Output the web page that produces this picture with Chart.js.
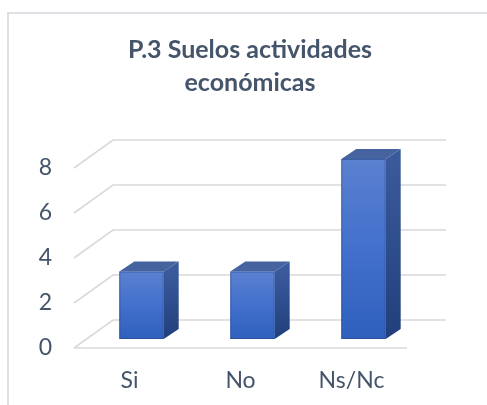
<!DOCTYPE html>
<html>
<head>
<meta charset="utf-8">
<script src="https://cdn.jsdelivr.net/npm/chart.js@4"></script>
<style>
  html, body { margin: 0; padding: 0; background: #fff; }
  #wrap { position: relative; width: 487px; height: 405px; }
</style>
</head>
<body>
<div id="wrap"><canvas id="chart" width="487" height="405"></canvas></div>
<script>
// chart data
const categories = ['Si', 'No', 'Ns/Nc'];
const values = [3, 3, 8];
const yTicks = [0, 2, 4, 6, 8];
const titleLines = ['P.3 Suelos actividades', 'económicas'];

const textColor = '#44546a';
const gridColor = '#d9d9d9';
// 3D look: back wall offset and bar offsets
const wall = { dx: 39, dy: -28 };
const barShift = { dx: 12, dy: -9 };
const barDepth = { dx: 15, dy: -10 };

// Fake 3D: frame, title, walls and boxes drawn around the library's scales
const excel3d = {
    id: 'excel3d',
    beforeDraw(chart) {
        const ctx = chart.ctx;
        const area = chart.chartArea;
        const y = chart.scales.y;

        ctx.save();
        // chart frame
        ctx.strokeStyle = '#dde0e5';
        ctx.lineWidth = 2;
        ctx.strokeRect(8, 13, 500, 420);

        // title
        ctx.fillStyle = textColor;
        ctx.font = 'bold 25px Lato';
        ctx.textAlign = 'center';
        ctx.textBaseline = 'alphabetic';
        ctx.fillText(titleLines[0], 250, 58);
        ctx.fillText(titleLines[1], 250, 91);

        // gridlines: side diagonal + back wall
        ctx.strokeStyle = gridColor;
        ctx.lineWidth = 1.6;
        yTicks.forEach(v => {
            const py = y.getPixelForValue(v);
            ctx.beginPath();
            ctx.moveTo(area.left, py);
            ctx.lineTo(area.left + wall.dx, py + wall.dy);
            ctx.lineTo(area.right + wall.dx, py + wall.dy);
            ctx.stroke();
        });
        // floor front edge
        const base = y.getPixelForValue(0);
        ctx.beginPath();
        ctx.moveTo(area.left, base);
        ctx.lineTo(area.right, base);
        ctx.stroke();
        ctx.restore();
    },
    beforeDatasetsDraw() {
        return false; // boxes are drawn in afterDraw
    },
    afterDraw(chart) {
        const ctx = chart.ctx;
        const meta = chart.getDatasetMeta(0);
        ctx.save();
        meta.data.forEach(bar => {
            const x0 = bar.x - bar.width / 2 + barShift.dx;
            const x1 = bar.x + bar.width / 2 + barShift.dx;
            const top = bar.y + barShift.dy;
            const bottom = bar.base + barShift.dy;

            // side face
            let g = ctx.createLinearGradient(0, top, 0, bottom);
            g.addColorStop(0, '#3a5a9c');
            g.addColorStop(1, '#213f7c');
            ctx.fillStyle = g;
            ctx.beginPath();
            ctx.moveTo(x1, top);
            ctx.lineTo(x1 + barDepth.dx, top + barDepth.dy);
            ctx.lineTo(x1 + barDepth.dx, bottom + barDepth.dy);
            ctx.lineTo(x1, bottom);
            ctx.closePath();
            ctx.fill();

            // top face
            ctx.fillStyle = '#46639f';
            ctx.beginPath();
            ctx.moveTo(x0, top);
            ctx.lineTo(x0 + barDepth.dx, top + barDepth.dy);
            ctx.lineTo(x1 + barDepth.dx, top + barDepth.dy);
            ctx.lineTo(x1, top);
            ctx.closePath();
            ctx.fill();

            // front face
            g = ctx.createLinearGradient(0, top, 0, bottom);
            g.addColorStop(0, '#5b81d0');
            g.addColorStop(0.5, '#4270cc');
            g.addColorStop(1, '#2f60bd');
            ctx.fillStyle = g;
            ctx.fillRect(x0, top, x1 - x0, bottom - top);
            ctx.strokeStyle = 'rgba(40,70,140,0.6)';
            ctx.lineWidth = 1;
            ctx.strokeRect(x0 + 0.5, top + 0.5, x1 - x0 - 1, bottom - top - 1);
        });
        ctx.restore();
    }
};

function renderChart() {
    const ctx = document.getElementById('chart').getContext('2d');
    new Chart(ctx, {
        type: 'bar',
        data: {
            labels: categories,
            datasets: [{
                data: values,
                backgroundColor: '#4472c4',
                categoryPercentage: 1,
                barPercentage: 0.4
            }]
        },
        options: {
            responsive: false,
            animation: false,
            layout: { padding: { left: 8, right: 80, top: 168, bottom: 0 } },
            plugins: {
                legend: { display: false },
                tooltip: { enabled: false }
            },
            scales: {
                y: {
                    min: 0,
                    max: 8,
                    afterFit: scale => { scale.width = 66; },
                    grid: { display: false },
                    border: { display: false },
                    ticks: {
                        stepSize: 2,
                        padding: 14,
                        color: textColor,
                        font: { family: 'Lato', size: 23 }
                    }
                },
                x: {
                    afterFit: scale => { scale.height = 57; },
                    grid: { display: false },
                    border: { display: false },
                    ticks: {
                        padding: 11,
                        color: textColor,
                        font: { family: 'Lato', size: 23 }
                    }
                }
            }
        },
        plugins: [excel3d]
    });
}

document.addEventListener('DOMContentLoaded', renderChart);
</script>
</body>
</html>
